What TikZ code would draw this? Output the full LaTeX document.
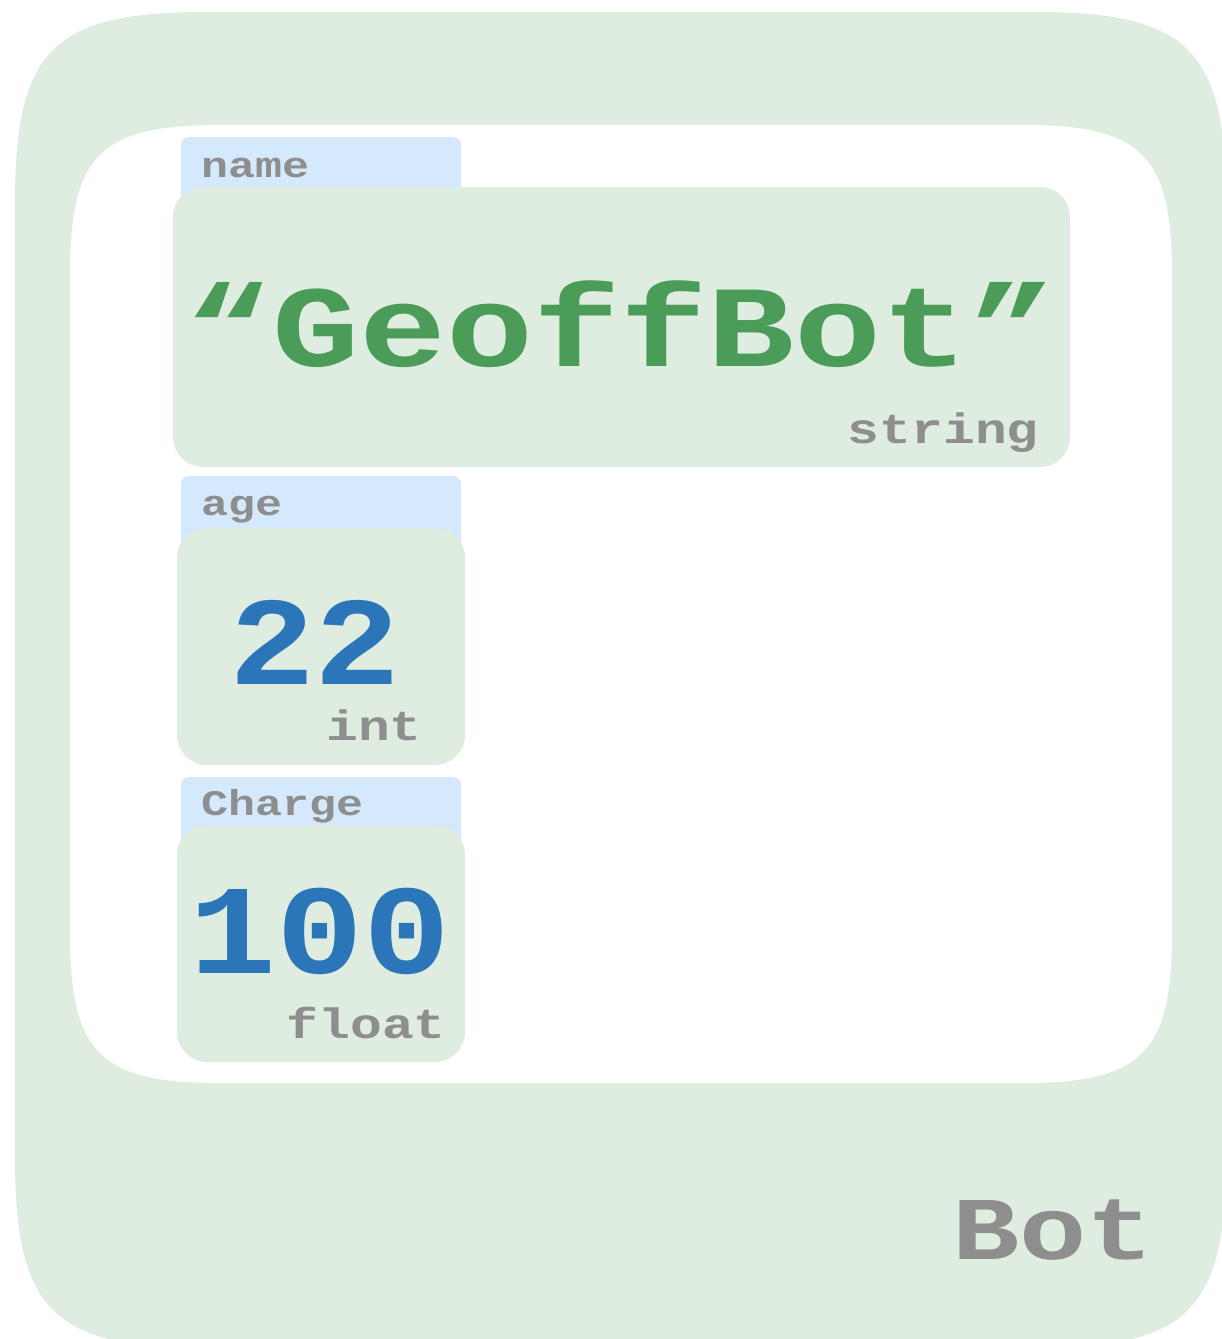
\documentclass[tikz,border=0pt]{standalone}
\usepackage{fontspec}
\setmonofont{Liberation Mono}
\definecolor{boxgreen}{HTML}{DFEDE0}
\definecolor{tabblue}{HTML}{D4EAFC}
\definecolor{txtgreen}{HTML}{4A9C58}
\definecolor{txtblue}{HTML}{2A76B8}
\definecolor{txtgray}{HTML}{8E8E8E}
\newcommand{\squash}[1]{\scalebox{1}[0.8]{#1}}
\newcommand{\squashnum}[1]{\scalebox{1}[0.88]{#1}}
\tikzset{
  tabbox/.style={fill=tabblue, draw=none, rounded corners=8pt},
  valbox/.style={fill=boxgreen, draw=none, rounded corners=30pt},
  lbl/.style={inner sep=0pt, anchor=base west, text=txtgray, font=\ttfamily\bfseries\fontsize{45}{45}\selectfont},
  typ/.style={inner sep=0pt, anchor=base east, text=txtgray, font=\ttfamily\bfseries\fontsize{53}{53}\selectfont},
  numval/.style={inner sep=0pt, anchor=base, text=txtblue},
}
\begin{document}
\begin{tikzpicture}[x=1pt,y=-1pt]
\useasboundingbox (0,0) rectangle (1222,1339);
\clip (0,0) rectangle (1222,1339);
% outer object (squircle)
\fill[boxgreen] (15,202) .. controls (15,50) and (53,12) .. (205,12) -- (1036,12)
  .. controls (1188,12) and (1226,50) .. (1226,202) -- (1226,1158)
  .. controls (1226,1310) and (1188,1348) .. (1036,1348) -- (205,1348)
  .. controls (53,1348) and (15,1310) .. (15,1158) -- cycle;
% inner white area
\fill[white] (70,275) .. controls (70,155) and (100,125) .. (220,125) -- (1022,125)
  .. controls (1142,125) and (1172,155) .. (1172,275) -- (1172,933)
  .. controls (1172,1053) and (1142,1083) .. (1022,1083) -- (220,1083)
  .. controls (100,1083) and (70,1053) .. (70,933) -- cycle;
% name field
\fill[tabbox] (181,137) rectangle (461,215);
\node[lbl] (namelbl) at (201,177) {\squash{name}};
\fill[valbox] (173,187) rectangle (1070,467);
\node[inner sep=0pt, anchor=base, text=txtgreen, font=\ttfamily\bfseries\fontsize{145}{145}\selectfont] (nameval) at (621,366) {\squash{“GeoffBot”}};
\node[typ] (nametype) at (1039,443) {\squash{string}};
% age field
\fill[tabbox] (181,476) rectangle (461,560);
\node[lbl] (agelbl) at (201,515) {\squash{age}};
\fill[valbox] (177,528) rectangle (465,765);
\node[numval, font=\ttfamily\bfseries\fontsize{143}{143}\selectfont] (ageval) at (315,684) {\squashnum{22}};
\node[typ] (agetype) at (422,740) {\squash{int}};
% charge field
\fill[tabbox] (181,777) rectangle (461,860);
\node[lbl] (chglbl) at (201,815) {\squash{Charge}};
\fill[valbox] (177,825) rectangle (465,1062);
\node[numval, font=\ttfamily\bfseries\fontsize{145}{145}\selectfont] (chgval) at (320,973) {\squashnum{100}};
\node[typ] (chgtype) at (446,1038) {\squash{float}};
% class name
\node[inner sep=0pt, anchor=base, text=txtgray, font=\ttfamily\bfseries\fontsize{112}{112}\selectfont] (classname) at (1053,1259) {\squash{Bot}};
\end{tikzpicture}
\end{document}
